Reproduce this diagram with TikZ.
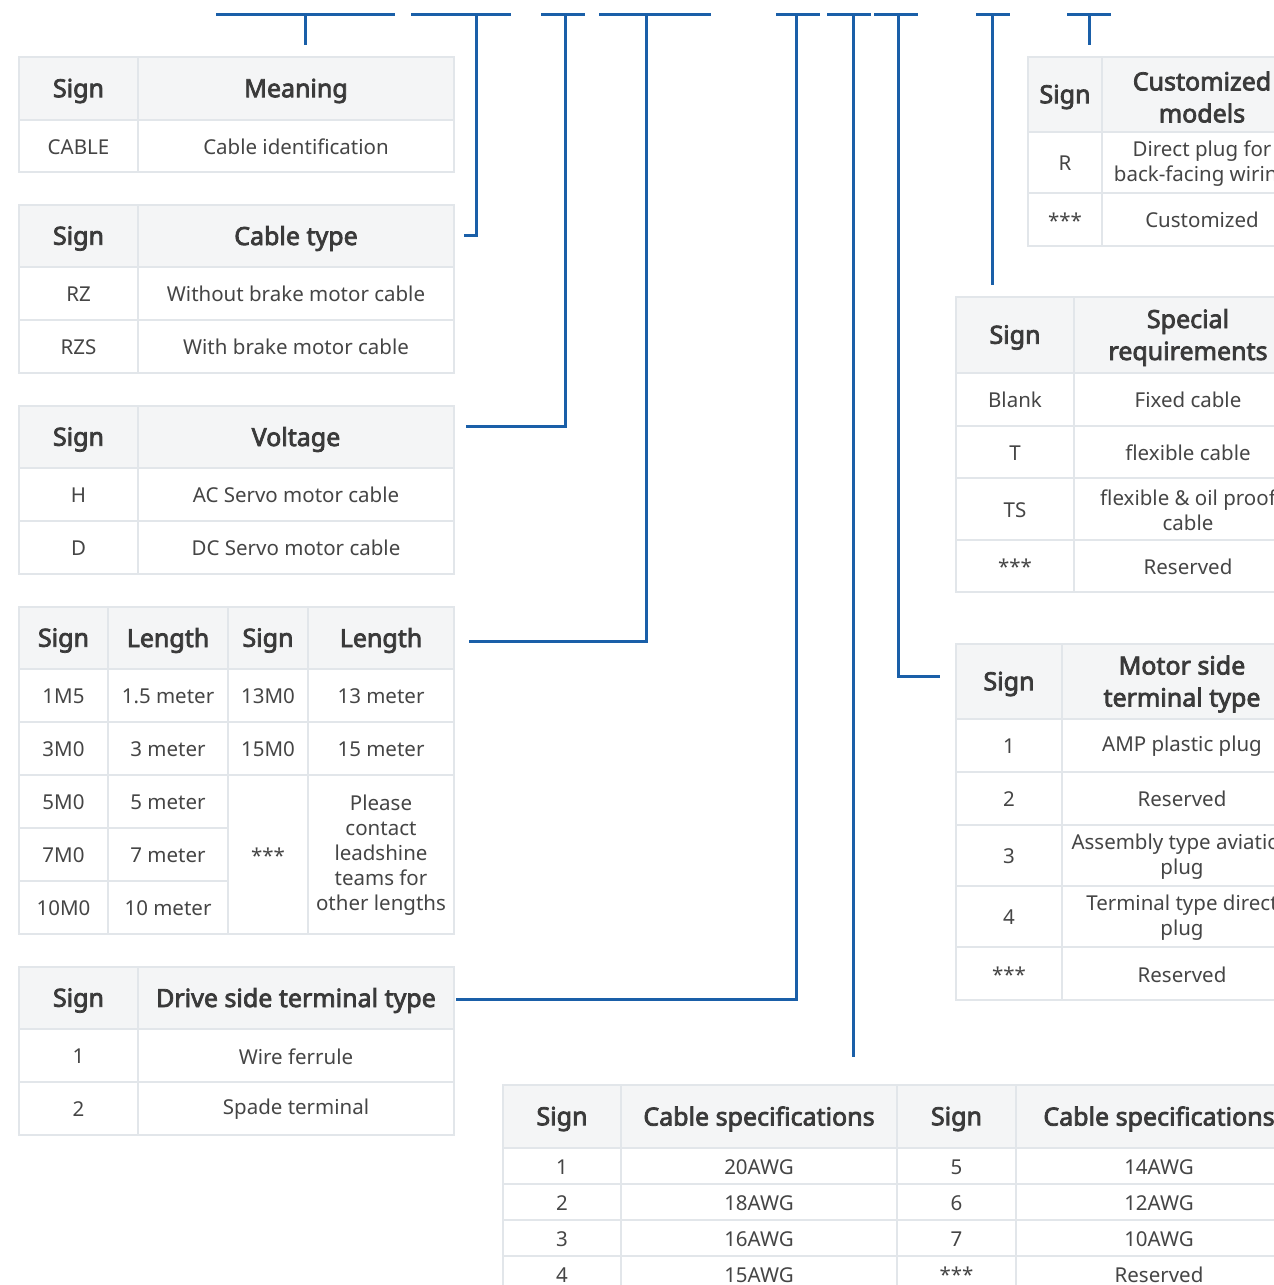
\documentclass[tikz,border=0pt]{standalone}
\usepackage{fontspec}
\setmainfont{Noto Sans}[BoldFont={Noto Sans}, BoldFeatures={FakeBold=3}]
\usetikzlibrary{calc}
\definecolor{bordc}{HTML}{E2E6EA}
\definecolor{headfill}{HTML}{F4F5F6}
\definecolor{bodyc}{HTML}{454545}
\definecolor{headc}{HTML}{3A3A3A}
\definecolor{linec}{HTML}{1A5FA8}
\newcommand{\bodyf}{\fontsize{20.5}{25}\selectfont}
\newcommand{\headf}{\fontsize{25}{32}\selectfont\bfseries}
\newcommand{\tc}[7]{%
  \node[#6, minimum width={(#4)-(#2)}, minimum height={(#5)-(#3)}] (#1) at ({((#2)+(#4))/2},{((#3)+(#5))/2}) {};
  \node[#6 txt] (#1t) at (#1.center) {#7};}
\begin{document}
\begin{tikzpicture}[x=1pt,y=-1pt,
  cell/.style={draw=bordc, line width=2pt, inner sep=0pt},
  hcell/.style={cell, fill=headfill},
  cell txt/.style={inner sep=0pt, align=center, text=bodyc, font=\bodyf, yshift=-0.8pt},
  hcell txt/.style={inner sep=0pt, align=center, text=headc, font=\headf, yshift=-2.5pt},
  conn/.style={draw=linec, line width=3pt, line join=miter}]
\useasboundingbox (0,0) rectangle (1274,1285);
\clip (0,0) rectangle (1274,1285);
\fill[white] (0,0) rectangle (1274,1285);

% ---------- Table 1 ----------
\tc{t1s}{19}{57}{138}{120}{hcell}{Sign}
\tc{t1m}{138}{57}{454}{120}{hcell}{Meaning}
\tc{t1a}{19}{120}{138}{172}{cell}{CABLE}
\tc{t1b}{138}{120}{454}{172}{cell}{Cable identification}

% ---------- Table 2 ----------
\tc{t2s}{19}{205}{138}{267}{hcell}{Sign}
\tc{t2m}{138}{205}{454}{267}{hcell}{Cable type}
\tc{t2a}{19}{267}{138}{320}{cell}{RZ}
\tc{t2b}{138}{267}{454}{320}{cell}{Without brake motor cable}
\tc{t2c}{19}{320}{138}{373}{cell}{RZS}
\tc{t2d}{138}{320}{454}{373}{cell}{With brake motor cable}

% ---------- Table 3 ----------
\tc{t3s}{19}{406}{138}{468}{hcell}{Sign}
\tc{t3m}{138}{406}{454}{468}{hcell}{Voltage}
\tc{t3a}{19}{468}{138}{521}{cell}{H}
\tc{t3b}{138}{468}{454}{521}{cell}{AC Servo motor cable}
\tc{t3c}{19}{521}{138}{574}{cell}{D}
\tc{t3d}{138}{521}{454}{574}{cell}{DC Servo motor cable}

% ---------- Table 4 ----------
\tc{t4h1}{19}{607}{108}{669}{hcell}{Sign}
\tc{t4h2}{108}{607}{228}{669}{hcell}{Length}
\tc{t4h3}{228}{607}{308}{669}{hcell}{Sign}
\tc{t4h4}{308}{607}{454}{669}{hcell}{Length}
\tc{t4a1}{19}{669}{108}{722}{cell}{1M5}
\tc{t4a2}{108}{669}{228}{722}{cell}{1.5 meter}
\tc{t4a3}{228}{669}{308}{722}{cell}{13M0}
\tc{t4a4}{308}{669}{454}{722}{cell}{13 meter}
\tc{t4b1}{19}{722}{108}{775}{cell}{3M0}
\tc{t4b2}{108}{722}{228}{775}{cell}{3 meter}
\tc{t4b3}{228}{722}{308}{775}{cell}{15M0}
\tc{t4b4}{308}{722}{454}{775}{cell}{15 meter}
\tc{t4c1}{19}{775}{108}{828}{cell}{5M0}
\tc{t4c2}{108}{775}{228}{828}{cell}{5 meter}
\tc{t4d1}{19}{828}{108}{881}{cell}{7M0}
\tc{t4d2}{108}{828}{228}{881}{cell}{7 meter}
\tc{t4e1}{19}{881}{108}{934}{cell}{10M0}
\tc{t4e2}{108}{881}{228}{934}{cell}{10 meter}
\tc{t4m3}{228}{775}{308}{934}{cell}{***}
\tc{t4m4}{308}{775}{454}{934}{cell}{Please\\contact\\leadshine\\teams for\\other lengths}

% ---------- Table 5 ----------
\tc{t5s}{19}{967}{138}{1029}{hcell}{Sign}
\tc{t5m}{138}{967}{454}{1029}{hcell}{Drive side terminal type}
\tc{t5a}{19}{1029}{138}{1082}{cell}{1}
\tc{t5b}{138}{1029}{454}{1082}{cell}{Wire ferrule}
\tc{t5c}{19}{1082}{138}{1135}{cell}{2}
\tc{t5d}{138}{1082}{454}{1135}{cell}{Spade terminal}

% ---------- Table 6 ----------
\tc{t6s}{1028}{57}{1102}{132}{hcell}{Sign}
\tc{t6m}{1102}{57}{1302}{132}{hcell}{Customized\\models}
\tc{t6a}{1028}{132}{1102}{193}{cell}{R}
\tc{t6b}{1102}{132}{1302}{193}{cell}{Direct plug for\\back-facing wiring}
\tc{t6c}{1028}{193}{1102}{246}{cell}{***}
\tc{t6d}{1102}{193}{1302}{246}{cell}{Customized}

% ---------- Table 7 ----------
\tc{t7s}{956}{297}{1074}{373}{hcell}{Sign}
\tc{t7m}{1074}{297}{1302}{373}{hcell}{Special\\requirements}
\tc{t7a}{956}{373}{1074}{426}{cell}{Blank}
\tc{t7b}{1074}{373}{1302}{426}{cell}{Fixed cable}
\tc{t7c}{956}{426}{1074}{478}{cell}{T}
\tc{t7d}{1074}{426}{1302}{478}{cell}{flexible cable}
\tc{t7e}{956}{478}{1074}{540}{cell}{TS}
\tc{t7f}{1074}{478}{1302}{540}{cell}{flexible \& oil proof\\cable}
\tc{t7g}{956}{540}{1074}{592}{cell}{***}
\tc{t7h}{1074}{540}{1302}{592}{cell}{Reserved}

% ---------- Table 8 ----------
\tc{t8s}{956}{644}{1062}{719}{hcell}{Sign}
\tc{t8m}{1062}{644}{1302}{719}{hcell}{Motor side\\terminal type}
\tc{t8a}{956}{719}{1062}{772}{cell}{1}
\tc{t8b}{1062}{719}{1302}{772}{cell}{AMP plastic plug}
\tc{t8c}{956}{772}{1062}{825}{cell}{2}
\tc{t8d}{1062}{772}{1302}{825}{cell}{Reserved}
\tc{t8e}{956}{825}{1062}{886}{cell}{3}
\tc{t8f}{1062}{825}{1302}{886}{cell}{Assembly type aviation\\plug}
\tc{t8g}{956}{886}{1062}{947}{cell}{4}
\tc{t8h}{1062}{886}{1302}{947}{cell}{Terminal type direct\\plug}
\tc{t8i}{956}{947}{1062}{1000}{cell}{***}
\tc{t8j}{1062}{947}{1302}{1000}{cell}{Reserved}

% ---------- Table 9 ----------
\tc{t9h1}{503}{1085}{621}{1148}{hcell}{Sign}
\tc{t9h2}{621}{1085}{897}{1148}{hcell}{Cable specifications}
\tc{t9h3}{897}{1085}{1016}{1148}{hcell}{Sign}
\tc{t9h4}{1016}{1085}{1302}{1148}{hcell}{Cable specifications}
\tc{t9a1}{503}{1148}{621}{1184}{cell}{1}
\tc{t9a2}{621}{1148}{897}{1184}{cell}{20AWG}
\tc{t9a3}{897}{1148}{1016}{1184}{cell}{5}
\tc{t9a4}{1016}{1148}{1302}{1184}{cell}{14AWG}
\tc{t9b1}{503}{1184}{621}{1220}{cell}{2}
\tc{t9b2}{621}{1184}{897}{1220}{cell}{18AWG}
\tc{t9b3}{897}{1184}{1016}{1220}{cell}{6}
\tc{t9b4}{1016}{1184}{1302}{1220}{cell}{12AWG}
\tc{t9c1}{503}{1220}{621}{1256}{cell}{3}
\tc{t9c2}{621}{1220}{897}{1256}{cell}{16AWG}
\tc{t9c3}{897}{1220}{1016}{1256}{cell}{7}
\tc{t9c4}{1016}{1220}{1302}{1256}{cell}{10AWG}
\tc{t9d1}{503}{1256}{621}{1292}{cell}{4}
\tc{t9d2}{621}{1256}{897}{1292}{cell}{15AWG}
\tc{t9d3}{897}{1256}{1016}{1292}{cell}{***}
\tc{t9d4}{1016}{1256}{1302}{1292}{cell}{Reserved}

% ---------- top brackets ----------
\coordinate (b1l) at (216,14); \coordinate (b1r) at (395,14); \coordinate (b1m) at (305,14);
\coordinate (b2l) at (411,14); \coordinate (b2r) at (511,14); \coordinate (b2m) at (476,14);
\coordinate (b3l) at (541,14); \coordinate (b3r) at (585,14); \coordinate (b3m) at (565,14);
\coordinate (b4l) at (599,14); \coordinate (b4r) at (711,14); \coordinate (b4m) at (646,14);
\coordinate (b5l) at (776,14); \coordinate (b5r) at (820,14); \coordinate (b5m) at (796,14);
\coordinate (b6l) at (827,14); \coordinate (b6r) at (871,14); \coordinate (b6m) at (853,14);
\coordinate (b7l) at (874,14); \coordinate (b7r) at (918,14); \coordinate (b7m) at (898,14);
\coordinate (b8l) at (976,14); \coordinate (b8r) at (1010,14); \coordinate (b8m) at (992,14);
\coordinate (b9l) at (1067,14); \coordinate (b9r) at (1111,14); \coordinate (b9m) at (1089,14);
\foreach \i in {1,...,9} { \draw[conn] (b\i l) -- (b\i r); }

% ---------- connectors ----------
\draw[conn] (b1m) -- ($(b1m |- t1m.north)+(0,-11)$);
\draw[conn] (b2m) |- ($(t2m.east)+(9,-1)$);
\draw[conn] (b3m) |- ($(t3m.east)+(11,-11)$);
\draw[conn] (b4m) |- ($(t4h4.east)+(14,3)$);
\draw[conn] (b5m) |- ($(t5m.east)+(1,1)$);
\draw[conn] (b6m) -- ($(b6m |- t9h2.north)+(0,-27)$);
\draw[conn] (b7m) |- ($(t8s.west)+(-15,-5)$);
\draw[conn] (b8m) -- ($(b8m |- t7m.north)+(0,-11)$);
\draw[conn] (b9m) -- ($(b9m |- t6m.north)+(0,-11)$);
\end{tikzpicture}
\end{document}
